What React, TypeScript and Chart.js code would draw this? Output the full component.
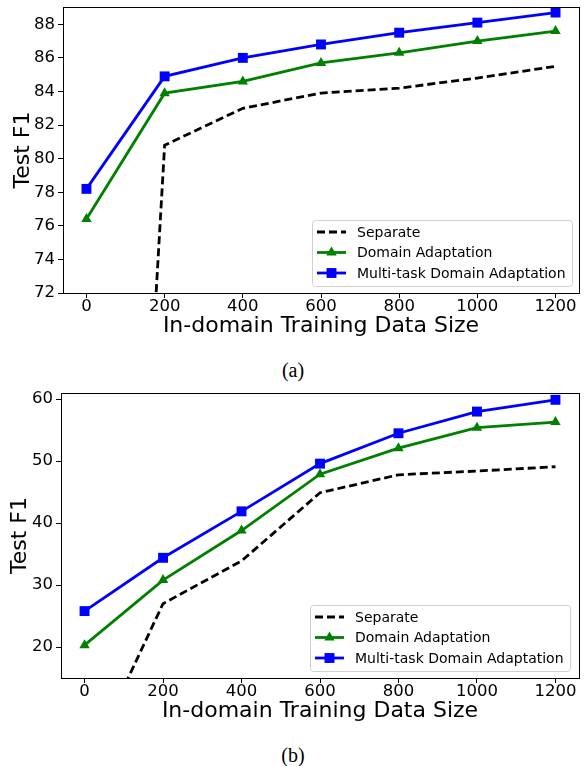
import React, { useEffect, useRef } from 'react';
import { Chart, registerables } from 'chart.js';

Chart.register(...registerables);

// ---------- data ----------
const trainingSizes = [0, 200, 400, 600, 800, 1000, 1200];
const xTickValues = [0, 200, 400, 600, 800, 1000, 1200];
const seriesNames = ['Separate', 'Domain Adaptation', 'Multi-task Domain Adaptation'];

// (a)
const separateA = [0, 80.8, 83.0, 83.9, 84.2, 84.8, 85.5];
const domainA = [76.4, 83.9, 84.6, 85.7, 86.3, 87.0, 87.6];
const multiA = [78.2, 84.9, 86.0, 86.8, 87.5, 88.1, 88.7];
const yTicksA = [72, 74, 76, 78, 80, 82, 84, 86, 88];

// (b)
const separateB = [0, 27.0, 33.9, 44.9, 47.8, 48.4, 49.1];
const domainB = [20.3, 30.8, 38.8, 47.9, 52.1, 55.4, 56.3];
const multiB = [25.8, 34.4, 41.9, 49.6, 54.5, 58.0, 59.9];
const yTicksB = [20, 30, 40, 50, 60];

const FONT = 'DejaVu Sans';

const framePlugin = {
  id: 'frame',
  afterDatasetsDraw(chart: any) {
    const { ctx, chartArea } = chart;
    ctx.save();
    ctx.strokeStyle = '#000';
    ctx.lineWidth = 1;
    ctx.strokeRect(
      Math.round(chartArea.left) + 0.5,
      Math.round(chartArea.top) + 0.5,
      Math.round(chartArea.right) - Math.round(chartArea.left),
      Math.round(chartArea.bottom) - Math.round(chartArea.top)
    );
    ctx.restore();
  },
};

function drawMarker(ctx: any, style: string, r: number, x: number, y: number) {
  ctx.beginPath();
  if (style === 'rect') {
    const s = r * Math.SQRT1_2;
    ctx.rect(x - s, y - s, 2 * s, 2 * s);
  } else if (style === 'triangle') {
    const h = r * 1.5;
    const half = (r * Math.sqrt(3)) / 2;
    ctx.moveTo(x, y - r);
    ctx.lineTo(x + half, y - r + h);
    ctx.lineTo(x - half, y - r + h);
    ctx.closePath();
  }
  ctx.fill();
}

const legendPlugin = {
  id: 'insetLegend',
  afterDatasetsDraw(chart: any, _args: any, opts: any) {
    const { ctx, chartArea } = chart;
    const w = 260;
    const h = 66;
    const x = Math.round(chartArea.right - opts.right - w);
    const y = Math.round(chartArea.bottom - opts.bottom - h);
    ctx.save();
    ctx.beginPath();
    (ctx as any).roundRect(x + 0.5, y + 0.5, w, h, 3);
    ctx.fillStyle = 'rgba(255,255,255,0.8)';
    ctx.fill();
    ctx.strokeStyle = '#d0d0d0';
    ctx.lineWidth = 1;
    ctx.stroke();
    chart.data.datasets.forEach((ds: any, i: number) => {
      const cy = y + 12 + i * 20.5;
      ctx.beginPath();
      ctx.strokeStyle = ds.borderColor;
      ctx.lineWidth = ds.borderWidth;
      ctx.setLineDash(ds.borderDash || []);
      ctx.moveTo(x + 5, cy);
      ctx.lineTo(x + 34, cy);
      ctx.stroke();
      ctx.setLineDash([]);
      if (ds.pointRadius > 0) {
        ctx.fillStyle = ds.backgroundColor;
        drawMarker(ctx, ds.pointStyle, ds.pointRadius, x + 19.5, cy);
      }
      ctx.fillStyle = '#000';
      ctx.font = `14px "${FONT}"`;
      ctx.textBaseline = 'middle';
      ctx.textAlign = 'left';
      ctx.fillText(seriesNames[i], x + 45, cy + 1);
    });
    ctx.restore();
  },
};

type Props = {
  separate: number[];
  domain: number[];
  multi: number[];
  yTicks: number[];
  yMin: number;
  yMax: number;
  top: number;
  height: number;
  padTop: number;
  yAxisWidth: number;
  xAxisHeight: number;
  yTitlePad: number;
  xTitlePad: number;
  legendRight: number;
  legendBottom: number;
};

function LineChart(p: Props) {
  const ref = useRef<HTMLCanvasElement>(null);
  useEffect(() => {
    const canvas = ref.current;
    if (!canvas) return;
    const toPts = (ys: number[]) => trainingSizes.map((x, i) => ({ x, y: ys[i] }));
    const tickFont = { family: FONT, size: 16.5 };
    const titleFont = { family: FONT, size: 22, lineHeight: 1.2 };
    const chart = new Chart(canvas, {
      type: 'line',
      data: {
        datasets: [
          {
            label: seriesNames[0],
            data: toPts(p.separate),
            borderColor: '#000000',
            backgroundColor: '#000000',
            borderWidth: 2.8,
            borderDash: [8, 4],
            pointRadius: 0,
            tension: 0,
            fill: false,
          },
          {
            label: seriesNames[1],
            data: toPts(p.domain),
            borderColor: '#008000',
            backgroundColor: '#008000',
            borderWidth: 2.8,
            pointStyle: 'triangle',
            pointRadius: 6,
            pointBorderWidth: 0,
            tension: 0,
            fill: false,
          },
          {
            label: seriesNames[2],
            data: toPts(p.multi),
            borderColor: '#0000ff',
            backgroundColor: '#0000ff',
            borderWidth: 2.8,
            pointStyle: 'rect',
            pointRadius: 7,
            pointBorderWidth: 0,
            tension: 0,
            fill: false,
          },
        ],
      },
      options: {
        responsive: false,
        animation: false,
        events: [],
        layout: { padding: { top: p.padTop, right: 4, left: 0, bottom: 0 } },
        plugins: {
          legend: { display: false },
          tooltip: { enabled: false },
          insetLegend: { right: p.legendRight, bottom: p.legendBottom },
        } as any,
        scales: {
          x: {
            type: 'linear',
            min: -60,
            max: 1260,
            afterBuildTicks: (s: any) => {
              s.ticks = xTickValues.map((v) => ({ value: v }));
            },
            afterFit: (s: any) => {
              s.height = p.xAxisHeight;
            },
            grid: { drawOnChartArea: false, drawTicks: true, tickLength: 5, tickColor: '#000', lineWidth: 1 },
            border: { display: false },
            ticks: {
              color: '#000',
              font: tickFont,
              padding: -1,
              maxRotation: 0,
              autoSkip: false,
              callback: (v: any) => String(v),
            },
            title: {
              display: true,
              text: 'In-domain Training Data Size',
              color: '#000',
              font: titleFont,
              padding: { top: 0, bottom: p.xTitlePad },
            },
          },
          y: {
            type: 'linear',
            min: p.yMin,
            max: p.yMax,
            afterBuildTicks: (s: any) => {
              s.ticks = p.yTicks.map((v) => ({ value: v }));
            },
            afterFit: (s: any) => {
              s.width = p.yAxisWidth;
              s.paddingTop = 0;
              s.paddingBottom = 0;
            },
            grid: { drawOnChartArea: false, drawTicks: true, tickLength: 5, tickColor: '#000', lineWidth: 1 },
            border: { display: false },
            ticks: { color: '#000', font: tickFont, padding: 3, callback: (v: any) => String(v) },
            title: {
              display: true,
              text: 'Test F1',
              color: '#000',
              font: titleFont,
              padding: { top: p.yTitlePad, bottom: 0 },
            },
          },
        },
      } as any,
      plugins: [framePlugin, legendPlugin],
    });
    return () => chart.destroy();
  }, []);
  return (
    <canvas
      ref={ref}
      width={586}
      height={p.height}
      style={{ position: 'absolute', left: 0, top: p.top, width: 586, height: p.height, display: 'block' }}
    />
  );
}

const captionStyle = (top: number): React.CSSProperties => ({
  position: 'absolute',
  left: 0,
  width: 586,
  top,
  textAlign: 'center',
  fontFamily: '"Liberation Serif", "Times New Roman", serif',
  fontSize: 20,
  lineHeight: '24px',
  color: '#000',
});

export default function App() {
  return (
    <div style={{ position: 'absolute', left: 0, top: 0, width: 586, height: 766, background: '#fff', overflow: 'hidden' }}>
      <LineChart
        separate={separateA}
        domain={domainA}
        multi={multiA}
        yTicks={yTicksA}
        yMin={72}
        yMax={89.03}
        top={0}
        height={340}
        padTop={6}
        yAxisWidth={63}
        xAxisHeight={47}
        yTitlePad={10}
        xTitlePad={0.5}
        legendRight={7}
        legendBottom={7}
      />
      <div style={captionStyle(358)}>(a)</div>
      <LineChart
        separate={separateB}
        domain={domainB}
        multi={multiB}
        yTicks={yTicksB}
        yMin={15}
        yMax={61}
        top={380}
        height={345}
        padTop={13}
        yAxisWidth={61}
        xAxisHeight={47}
        yTitlePad={7}
        xTitlePad={0.3}
        legendRight={9}
        legendBottom={7}
      />
      <div style={captionStyle(743)}>(b)</div>
    </div>
  );
}
